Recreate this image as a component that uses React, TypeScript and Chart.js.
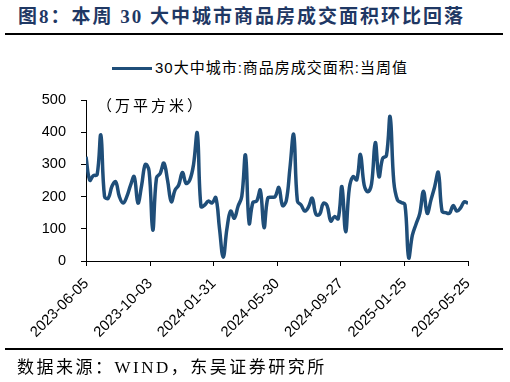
import React, { useEffect, useRef } from "react";
import { Chart, registerables } from "chart.js";

Chart.register(...registerables);

const seriesName = "30大中城市:商品房成交面积:当周值";
const firstWeek = "2023-06-04";
const tickLabels = ["2023-06-05", "2023-10-03", "2024-01-31", "2024-05-30", "2024-09-27", "2025-01-25", "2025-05-25"];
const weeklyArea = [
  324, 251, 265, 268, 391, 200, 195, 232, 246, 200,
  180, 200, 235, 262, 180, 235, 300, 280, 96, 258,
  272, 304, 250, 184, 220, 236, 275, 241, 252, 300,
  397, 169, 174, 186, 180, 197, 100, 12, 100, 155,
  133, 170, 200, 329, 117, 182, 186, 220, 104, 195,
  198, 200, 228, 172, 187, 290, 393, 186, 174, 155,
  168, 195, 145, 145, 179, 172, 124, 138, 131, 231,
  91, 226, 262, 252, 331, 236, 215, 240, 368, 262,
  319, 327, 448, 246, 189, 182, 175, 10, 80, 115,
  148, 217, 148, 189, 230, 275, 155, 150, 148, 172,
  155, 165, 184, 179,
];

const DAY = 86400000;
const axisBase = Date.parse(tickLabels[0] + "T00:00:00Z");
const dayOf = (s: string) => Math.round((Date.parse(s + "T00:00:00Z") - axisBase) / DAY);
const firstDay = dayOf(firstWeek);
const weekDates = weeklyArea.map((_, i) =>
  new Date(Date.parse(firstWeek + "T00:00:00Z") + i * 7 * DAY).toISOString().slice(0, 10)
);
const tickDays = tickLabels.map(dayOf);

const LINE = "#1f4e79";

export default function App() {
  const ref = useRef<HTMLCanvasElement | null>(null);
  useEffect(() => {
    if (!ref.current) return;
    const chart = new Chart(ref.current, {
      type: "line",
      data: {
        datasets: [
          {
            label: seriesName,
            data: weeklyArea.map((v, i) => ({ x: dayOf(weekDates[i]), y: v })),
            borderColor: LINE,
            backgroundColor: LINE,
            borderWidth: 3.5,
            pointRadius: 0,
            tension: 0.4,
            fill: false,
          },
        ],
      },
      options: {
        animation: false,
        responsive: false,
        maintainAspectRatio: false,
        layout: { padding: { left: 0, top: 100, right: 42, bottom: 0 } },
        plugins: { legend: { display: false }, tooltip: { enabled: false } },
        scales: {
          x: {
            type: "linear",
            min: firstDay,
            max: tickDays[tickDays.length - 1],
            afterBuildTicks: (s: any) => {
              s.ticks = tickDays.map((v) => ({ value: v }));
            },
            afterFit: (s: any) => {
              s.height = 121;
            },
            ticks: {
              autoSkip: false,
              minRotation: 45,
              maxRotation: 45,
              padding: 9,
              color: "#000",
              font: { family: "'Liberation Sans', Arial, sans-serif", size: 14.8 },
              callback: (v: any) => {
                const k = tickDays.indexOf(Number(v));
                return k >= 0 ? tickLabels[k] : "";
              },
            },
            grid: { display: true, drawOnChartArea: false, drawTicks: true, tickLength: 5, color: "#000" },
            border: { display: true, color: "#000", width: 1 },
          },
          y: {
            min: 0,
            max: 500,
            afterFit: (s: any) => {
              s.width = 86;
            },
            ticks: {
              stepSize: 100,
              padding: 15,
              color: "#000",
              font: { family: "'Liberation Sans', Arial, sans-serif", size: 14.5 },
            },
            grid: { display: true, drawOnChartArea: false, drawTicks: true, tickLength: 5, color: "#000" },
            border: { display: true, color: "#000", width: 1 },
          },
        },
      },
    });
    return () => chart.destroy();
  }, []);

  const cjkSerif = "'Liberation Serif', 'Noto Sans CJK SC', serif";
  const cjkSans = "'Liberation Sans', 'Noto Sans CJK SC', sans-serif";
  return (
    <div style={{ position: "absolute", left: 0, top: 0, width: 510, height: 382, background: "#fff", overflow: "hidden" }}>
      <div style={{ position: "absolute", left: 18, top: 4, fontFamily: cjkSerif, fontWeight: 700, fontSize: 19, lineHeight: "26px", color: "#1f3864", whiteSpace: "nowrap", letterSpacing: 2 }}>
        图8：本周 30 大中城市商品房成交面积环比回落
      </div>
      <div style={{ position: "absolute", left: 5, top: 33, width: 498, height: 2, background: "#000" }} />
      <div style={{ position: "absolute", left: 112, top: 67, width: 40, height: 3, background: LINE }} />
      <div style={{ position: "absolute", left: 155, top: 58, fontFamily: cjkSans, fontSize: 15, lineHeight: "20px", color: "#000", whiteSpace: "nowrap", letterSpacing: 1 }}>
        {seriesName}
      </div>
      <canvas ref={ref} width={510} height={382} style={{ position: "absolute", left: 0, top: 0, width: 510, height: 382 }} />
      <div style={{ position: "absolute", left: 97, top: 96, fontFamily: cjkSans, fontSize: 15, lineHeight: "20px", color: "#000", whiteSpace: "nowrap", letterSpacing: 3 }}>
        （万平方米）
      </div>
      <div style={{ position: "absolute", left: 5, top: 348, width: 498, height: 2, background: "#000" }} />
      <div style={{ position: "absolute", left: 17, top: 356, fontFamily: cjkSerif, fontSize: 17, lineHeight: "24px", color: "#000", whiteSpace: "nowrap", letterSpacing: 2.5 }}>
        数据来源：WIND，东吴证券研究所
      </div>
    </div>
  );
}
